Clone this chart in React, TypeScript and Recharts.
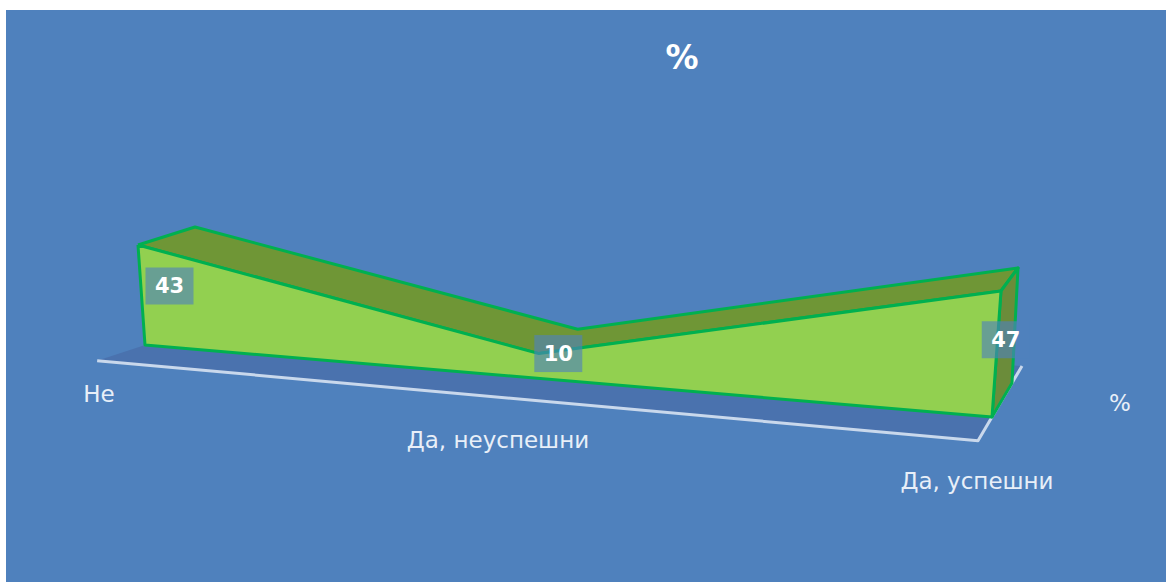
import { Scatter, ScatterChart, XAxis, YAxis } from "recharts";

const categories = ["Не", "Да, неуспешни", "Да, успешни"];
const positions = [0, 0.5, 1];
const values = [43, 10, 47];
const seriesName = "%";

const FONT = "'DejaVu Sans', sans-serif";
const EDGE = "#00b050";

type Pt = { x: number; y: number; text?: string };

const lerp = (a: number, b: number, t: number) => a + (b - a) * t;

// far end of the category axis is foreshortened by this factor
const perspective = (u: number) => u / (1.15 * (1 - u) + u);

// maps category position, value and depth (0 front, 1 back) to page coordinates
function project(u: number, v: number, d: number): Pt {
  const t = perspective(u);
  const baseX = lerp(145, 992, t) + d * lerp(55, 20, t);
  const baseY = lerp(345, 417, t) + d * lerp(-18, -34, t);
  const hx = lerp(lerp(-0.163, 0.191, t), lerp(-0.116, 0.128, t), d);
  const hy = lerp(lerp(-2.326, -2.681, t), lerp(-2.326, -2.447, t), d);
  return { x: baseX + v * hx, y: baseY + v * hy };
}

const closed = (pts: Pt[]) => [...pts, pts[0]];

const frontTop = positions.map((u, i) => project(u, values[i], 0));
const backTop = positions.map((u, i) => project(u, values[i], 1));

const frontFace = closed([...frontTop, project(1, 0, 0), project(0, 0, 0)]);
const topBand = closed([...frontTop, ...[...backTop].reverse()]);
const endCap = closed([
  project(1, values[2], 0),
  project(1, values[2], 1),
  project(1, 0, 1),
  project(1, 0, 0),
]);

const floor = closed([
  project(0, 0, -0.87),
  project(1, 0, -0.7),
  project(1, 0, 1.5),
  project(0, 0, 1.5),
]);
const axisLine = [project(0, 0, -0.87), project(1, 0, -0.7), project(1, 0, 1.5)];

const valueTags = positions.map((u, i) => ({
  ...project(u, values[i] / 2, 0.5),
  text: String(values[i]),
}));

// category names sit below the front edge of the floor
const labelShiftX = [-2, -10, 1];
const labelShiftY = [35, 41, 37];
const categoryLabels = positions.map((u, i) => {
  const p = project(u, 0, -0.8);
  return { x: p.x + labelShiftX[i], y: p.y + labelShiftY[i], text: categories[i] };
});

const seriesLabel = [{ x: project(1, 0, 0.5).x + 118, y: project(1, 0, 0.5).y + 3, text: seriesName }];

const noMark = () => <g />;

function ValueTag({ cx, cy, payload }: any) {
  return (
    <g>
      <rect x={cx - 24} y={cy - 18.5} width={48} height={37} fill="rgba(79,129,189,0.62)" />
      <text
        x={cx}
        y={cy}
        textAnchor="middle"
        dominantBaseline="central"
        fill="#fff"
        fontFamily={FONT}
        fontWeight="bold"
        fontSize={21}
      >
        {payload.text}
      </text>
    </g>
  );
}

function AxisText({ cx, cy, payload }: any) {
  return (
    <text
      x={cx}
      y={cy}
      textAnchor="middle"
      dominantBaseline="central"
      fill="#e8eff8"
      fontFamily={FONT}
      fontSize={23}
    >
      {payload.text}
    </text>
  );
}

function polygon(data: Pt[], fill: string, stroke: string, strokeWidth: number) {
  return (
    <Scatter
      data={data}
      dataKey="y"
      isAnimationActive={false}
      shape={noMark}
      line={{ fill, stroke, strokeWidth, strokeLinejoin: "round" }}
      lineJointType="linear"
    />
  );
}

export default function App() {
  return (
    <div style={{ position: "absolute", left: 0, top: 0, width: 1166, height: 582, background: "#fff" }}>
      <div style={{ position: "absolute", left: 6, top: 10, width: 1160, height: 572, background: "#4f81bd" }}>
        <ScatterChart width={1160} height={572} margin={{ top: 0, right: 0, bottom: 0, left: 0 }}>
          <XAxis type="number" dataKey="x" domain={[6, 1166]} hide />
          <YAxis type="number" dataKey="y" domain={[10, 582]} reversed hide />
          {polygon(floor, "#4a72ae", "none", 0)}
          {polygon(axisLine, "none", "#c9d8ec", 3)}
          {polygon(topBand, "#6f9636", EDGE, 3)}
          {polygon(endCap, "#6b8c3a", EDGE, 3)}
          {polygon(frontFace, "#92d050", EDGE, 3)}
          <Scatter data={categoryLabels} dataKey="y" isAnimationActive={false} shape={AxisText} />
          <Scatter data={seriesLabel} dataKey="y" isAnimationActive={false} shape={AxisText} />
          <Scatter data={valueTags} dataKey="y" isAnimationActive={false} shape={ValueTag} />
        </ScatterChart>
        <div
          style={{
            position: "absolute",
            left: 576,
            top: 28,
            width: 200,
            textAlign: "center",
            color: "#fff",
            fontFamily: FONT,
            fontWeight: "bold",
            fontSize: 33,
            lineHeight: "40px",
          }}
        >
          {seriesName}
        </div>
      </div>
    </div>
  );
}
